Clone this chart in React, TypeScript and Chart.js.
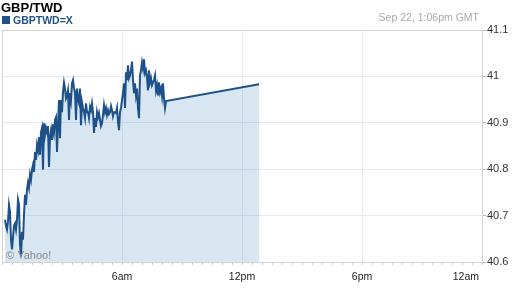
import React, { useEffect, useRef } from "react";
import { Chart, registerables } from "chart.js";

Chart.register(...registerables);

const chartTitle = "GBP/TWD";
const seriesName = "GBPTWD=X";
const stampText = "Sep 22, 1:06pm GMT";
const creditText = "© Yahoo!";

const yTickValues = [40.6, 40.7, 40.8, 40.9, 41.0, 41.1];
const yTickLabels = ["40.6", "40.7", "40.8", "40.9", "41", "41.1"];
const xTickMinutes = [360, 720, 1080, 1440];
const xTickLabels = ["6am", "12pm", "6pm", "12am"];

// sampling grid of the intraday series (minutes after midnight)
const firstMinute = 9;
const stepMinutes = 3;
const rates = [
  40.691, 40.678, 40.670, 40.687, 40.723, 40.708, 40.648, 40.627, 40.653, 40.678,
  40.683, 40.670, 40.691, 40.734, 40.723, 40.638, 40.612, 40.665, 40.648, 40.702,
  40.745, 40.723, 40.756, 40.771, 40.760, 40.788, 40.777, 40.799, 40.809, 40.794,
  40.837, 40.820, 40.852, 40.841, 40.869, 40.831, 40.880, 40.889, 40.799, 40.899,
  40.874, 40.889, 40.880, 40.893, 40.805, 40.869, 40.884, 40.863, 40.897, 40.880,
  40.906, 40.912, 40.837, 40.895, 40.949, 40.867, 40.949, 40.923, 40.966, 40.987,
  40.974, 40.953, 40.959, 40.970, 40.906, 40.964, 40.949, 40.985, 40.992, 40.974,
  40.966, 40.906, 40.974, 40.949, 40.942, 40.974, 40.895, 40.944, 40.932, 40.923,
  40.910, 40.942, 40.923, 40.923, 40.910, 40.934, 40.927, 40.942, 40.923, 40.878,
  40.910, 40.891, 40.923, 40.912, 40.921, 40.906, 40.893, 40.899, 40.917, 40.938,
  40.923, 40.932, 40.917, 40.927, 40.919, 40.923, 40.936, 40.927, 40.914, 40.923,
  40.923, 40.921, 40.932, 40.902, 40.884, 40.923, 40.932, 40.949, 40.964, 40.985,
  40.932, 41.009, 40.992, 41.024, 40.996, 41.002, 41.013, 41.032, 40.992, 40.964,
  40.985, 40.959, 40.974, 40.932, 40.910, 41.002, 41.013, 41.030, 41.017, 41.037,
  41.007, 41.013, 40.998, 40.970, 41.013, 40.987, 40.996, 40.981, 40.987, 40.992,
  41.002, 40.970, 40.981, 40.959, 40.987, 40.966, 40.974, 40.957, 40.985, 40.953,
  40.932, 40.947,
];
const lastMinute = 771;
const lastRate = 40.983;

const FONT = "Arial, 'Liberation Sans', sans-serif";
const LINE = "#1f5189";
const GRID = "#e3eaf3";
const FRAME = "#d4d4d4";

export default function App() {
  const ref = useRef<HTMLCanvasElement | null>(null);

  useEffect(() => {
    document.body.style.margin = "0";
    const canvas = ref.current;
    if (!canvas) return;

    const points = rates.map((v, i) => ({ x: firstMinute + i * stepMinutes, y: v }));
    points.push({ x: lastMinute, y: lastRate });

    const minorTicks: { value: number }[] = [];
    for (let m = 0; m <= 1440; m += 30) minorTicks.push({ value: m });

    const decor = {
      id: "decor",
      beforeDatasetsDraw(chart: any) {
        const { ctx, chartArea } = chart;
        ctx.save();
        ctx.strokeStyle = FRAME;
        ctx.lineWidth = 1;
        ctx.strokeRect(chartArea.left + 0.5, chartArea.top + 0.5, chartArea.right - chartArea.left, chartArea.bottom - chartArea.top);
        ctx.restore();
      },
      afterDraw(chart: any) {
        const { ctx, scales } = chart;
        ctx.save();
        ctx.textBaseline = "alphabetic";
        ctx.textAlign = "left";
        ctx.fillStyle = "#000";
        ctx.font = `bold 13px ${FONT}`;
        ctx.fillText(chartTitle, 1, 12);
        ctx.fillStyle = LINE;
        ctx.fillRect(2, 16, 8, 8);
        ctx.font = `bold 10.5px ${FONT}`;
        ctx.fillText(seriesName, 13, 24);
        ctx.fillStyle = "#aaaaaa";
        ctx.font = `10.5px ${FONT}`;
        ctx.textAlign = "right";
        ctx.fillText(stampText, 479, 21);
        ctx.textAlign = "left";
        ctx.fillStyle = "#8a8a8a";
        ctx.font = `11px ${FONT}`;
        ctx.fillText(creditText, 6, 259);
        // x labels
        ctx.fillStyle = "#222";
        ctx.font = `10.5px ${FONT}`;
        const xs = scales.x;
        xTickMinutes.forEach((m, i) => {
          const px = xs.getPixelForValue(m);
          if (i === xTickMinutes.length - 1) {
            ctx.textAlign = "right";
            ctx.fillText(xTickLabels[i], px - 3, 280);
          } else {
            ctx.textAlign = "center";
            ctx.fillText(xTickLabels[i], px, 280);
          }
        });
        ctx.restore();
      },
    };

    const chart = new Chart(canvas, {
      type: "line",
      data: {
        datasets: [
          {
            label: seriesName,
            data: points,
            borderColor: LINE,
            borderWidth: 2,
            pointRadius: 0,
            tension: 0,
            fill: "start",
            backgroundColor: "rgba(110,165,205,0.28)",
          },
        ],
      },
      options: {
        animation: false,
        responsive: false,
        devicePixelRatio: 1,
        layout: { padding: { top: 30, left: 2, right: 0, bottom: 0 } },
        plugins: { legend: { display: false }, tooltip: { enabled: false } },
        scales: {
          x: {
            type: "linear",
            min: 0,
            max: 1440,
            afterBuildTicks: (s: any) => {
              s.ticks = minorTicks.map((t) => ({ value: t.value }));
            },
            afterFit: (s: any) => {
              s.height = 26;
            },
            ticks: { display: false },
            grid: {
              color: (c: any) => (c.tick && c.tick.value % 360 === 0 ? GRID : "rgba(0,0,0,0)"),
              tickColor: "#c8c8c8",
              tickLength: 3,
              drawTicks: true,
            },
            border: { color: FRAME },
          },
          y: {
            position: "right",
            min: 40.6,
            max: 41.1,
            afterBuildTicks: (s: any) => {
              s.ticks = yTickValues.map((v) => ({ value: v }));
            },
            afterFit: (s: any) => {
              s.width = 30;
            },
            ticks: {
              color: "#333",
              font: { size: 11, family: FONT },
              padding: 1,
              callback: (_v: any, i: number) => yTickLabels[i],
            },
            grid: {
              color: GRID,
              tickColor: "#b8b8b8",
              tickLength: 4,
            },
            border: { color: FRAME },
          },
        },
      },
      plugins: [decor],
    });

    return () => chart.destroy();
  }, []);

  return (
    <div style={{ width: 512, height: 288, position: "relative", background: "#fff" }}>
      <canvas ref={ref} width={512} height={288} style={{ display: "block" }} />
    </div>
  );
}
